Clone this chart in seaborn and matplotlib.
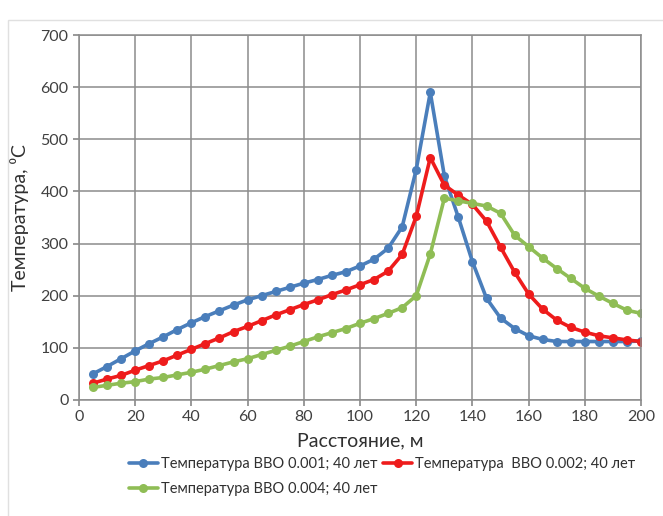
import numpy as np
import pandas as pd
import matplotlib
matplotlib.use("Agg")
import matplotlib.pyplot as plt
import seaborn as sns
from matplotlib.lines import Line2D
from matplotlib.patches import Rectangle

distance = list(range(5, 205, 5))
temp_001 = [50, 64, 79, 94, 108, 121, 135, 148, 160, 171, 182, 192, 200, 208, 216, 224, 231, 239, 246, 257,
            270, 291, 332, 442, 590, 430, 350, 265, 195, 157, 137, 123, 116, 112, 112, 112, 112, 112, 112, 113]
temp_002 = [32, 40, 47, 57, 66, 75, 86, 97, 108, 119, 131, 141, 152, 163, 173, 183, 192, 202, 211, 221,
            231, 247, 279, 352, 465, 412, 393, 375, 343, 293, 245, 203, 174, 153, 139, 130, 123, 119, 115, 112]
temp_004 = [24, 28, 32, 35, 40, 43, 48, 53, 59, 66, 73, 79, 87, 95, 103, 112, 121, 129, 137, 147,
            156, 166, 177, 200, 280, 387, 382, 377, 372, 358, 316, 294, 272, 252, 233, 214, 199, 185, 172, 166]
series_names = ["Температура ВВО 0.001; 40 лет",
                "Температура  ВВО 0.002; 40 лет",
                "Температура ВВО 0.004; 40 лет"]
colors = ["#4a7ebb", "#ee1c1c", "#8fbd55"]

df = pd.concat([
    pd.DataFrame({"x": distance, "y": vals, "s": name})
    for name, vals in zip(series_names, [temp_001, temp_002, temp_004])
])

sns.set_theme(style="white")
plt.rcParams['font.family'] = ['Lato', 'DejaVu Sans']

fig = plt.figure(figsize=(6.63, 5.16), dpi=100)
ax = fig.add_axes([0.119, 0.225, 0.848, 0.707])

sns.lineplot(data=df, x="x", y="y", hue="s", palette=colors, marker="o",
             markersize=6.5, markeredgewidth=0, linewidth=2.6, ax=ax, legend=False)

ax.set_xlim(0, 200)
ax.set_ylim(0, 700)
ax.set_xticks(range(0, 201, 20))
ax.set_yticks(range(0, 701, 100))
ax.grid(True, color="#8c8c8c", linewidth=1.1)
for sp in ax.spines.values():
    sp.set_color("#8c8c8c")
    sp.set_linewidth(1.1)
ax.tick_params(axis="both", labelsize=11.5, colors="#404040", length=4, direction="out",
               left=True, bottom=True, color="#8c8c8c")
ax.set_xlabel("Расстояние, м", fontsize=14, color="#303030", labelpad=6)
ax.set_ylabel("Температура, ⁰С", fontsize=14, color="#303030", labelpad=8)

handles = [Line2D([], [], color=c, marker="o", markersize=6.5, markeredgewidth=0, linewidth=2.6)
           for c in colors]
order = [0, 2, 1]
leg = fig.legend([handles[i] for i in order], [series_names[i] for i in order],
                 loc="upper left", bbox_to_anchor=(0.183, 0.128), ncol=2, frameon=False,
                 fontsize=10.5, handlelength=2.0, handletextpad=0.2, columnspacing=0.4,
                 labelspacing=0.75, borderpad=0)
for t in leg.get_texts():
    t.set_color("#303030")

fig.patches.append(Rectangle((8 / 663, -0.1), 1.2, 1.08 - 10 / 516, transform=fig.transFigure,
                             fill=False, edgecolor="#e0e0e0", linewidth=1.0))

fig.savefig("out.png", dpi=100)
